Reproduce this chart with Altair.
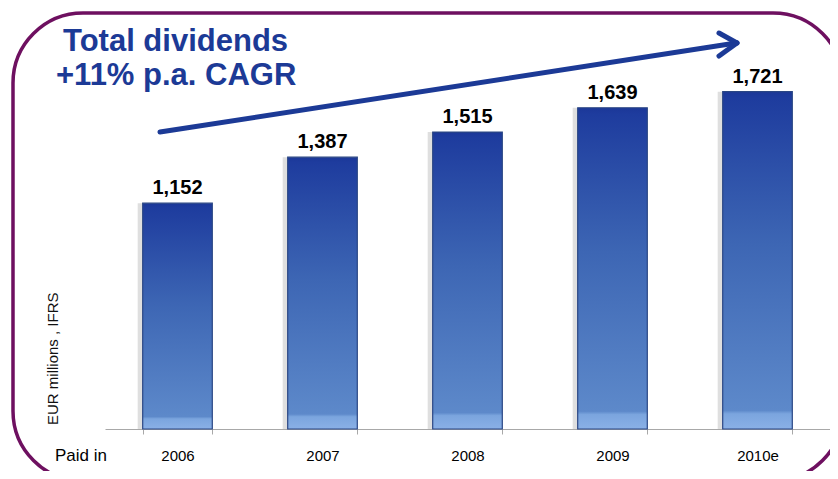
import altair as alt
import pandas as pd

years = ["2006", "2007", "2008", "2009", "2010e"]
dividends = [1152, 1387, 1515, 1639, 1721]
labels = ["1,152", "1,387", "1,515", "1,639", "1,721"]
title_lines = ["Total dividends", "+11% p.a. CAGR"]
y_title = "EUR millions , IFRS"
x_caption = "Paid in"

df = pd.DataFrame({"year": years, "value": dividends, "label": labels})

BLUE = "#1c3a96"
PURPLE = "#6e1060"
SANS = "Liberation Sans, Arial, Helvetica"

xenc = alt.X("year:N", sort=years,
             scale=alt.Scale(paddingInner=0.52, paddingOuter=0.26),
             axis=alt.Axis(title=None, labelAngle=0, labelFont=SANS, labelFontSize=15,
                           labelColor="#000000", domainColor="#a8a8a8", tickColor="#a8a8a8",
                           tickSize=5, tickBand="extent", labelPadding=14, grid=False))
yenc = alt.Y("value:Q", scale=alt.Scale(domain=[0, 2000]), axis=None)

base = alt.Chart(df)

shadow = base.mark_bar(color="#b8b8b8", opacity=0.45, xOffset=-5).encode(x=xenc, y=yenc)

grad = alt.Gradient(
    gradient="linear", x1=0, y1=0, x2=0, y2=1,
    stops=[
        alt.GradientStop(offset=0, color="#1b3798"),
        alt.GradientStop(offset=0.02, color="#1e3c9e"),
        alt.GradientStop(offset=0.45, color="#3d66b4"),
        alt.GradientStop(offset=0.945, color="#5d89ca"),
        alt.GradientStop(offset=0.955, color="#7ba5de"),
        alt.GradientStop(offset=1, color="#8ab0e6"),
    ],
)
bars = base.mark_bar(fill=grad, stroke="#2a4684", strokeWidth=1.2).encode(x=xenc, y=yenc)

values = base.mark_text(font=SANS, fontSize=20, fontWeight="bold", color="#000000",
                        baseline="alphabetic", dy=-9).encode(x=xenc, y=yenc, text="label:N")

one = alt.Data(values=[{}])

border = alt.Chart(one).mark_rect(cornerRadius=70, fillOpacity=0, fill="white",
                                  stroke=PURPLE, strokeWidth=3.5).encode(
    x=alt.value(-92), x2=alt.value(738), y=alt.value(-24), y2=alt.value(444))

t1 = alt.Chart(one).mark_text(text=title_lines[0], font=SANS, fontSize=31, fontWeight="bold",
                              color=BLUE, align="left", baseline="alphabetic").encode(
    x=alt.value(-42), y=alt.value(14))
t2 = alt.Chart(one).mark_text(text=title_lines[1], font=SANS, fontSize=31, fontWeight="bold",
                              color=BLUE, align="left", baseline="alphabetic").encode(
    x=alt.value(-49), y=alt.value(48))

shaft = alt.Chart(one).mark_rule(color=BLUE, strokeWidth=5, strokeCap="round").encode(
    x=alt.value(55), y=alt.value(95), x2=alt.value(631), y2=alt.value(6))
head1 = alt.Chart(one).mark_rule(color=BLUE, strokeWidth=5, strokeCap="round").encode(
    x=alt.value(614), y=alt.value(-4), x2=alt.value(632), y2=alt.value(6))
head2 = alt.Chart(one).mark_rule(color=BLUE, strokeWidth=5, strokeCap="round").encode(
    x=alt.value(614), y=alt.value(19), x2=alt.value(632), y2=alt.value(6))

ytitle = alt.Chart(one).mark_text(text=y_title, font=SANS, fontSize=15, color="#111111",
                                  angle=270, align="left", baseline="middle").encode(
    x=alt.value(-52), y=alt.value(388))
paid = alt.Chart(one).mark_text(text=x_caption, font=SANS, fontSize=17, color="#000000",
                                align="left", baseline="middle").encode(
    x=alt.value(-50), y=alt.value(419))

chart = alt.layer(border, shadow, bars, values, t1, t2, shaft, head1, head2, ytitle, paid).properties(
    width=725, height=392,
    autosize=alt.AutoSizeParams(type="none"),
    padding={"left": 97, "top": 29, "right": 0, "bottom": 42},
    background="white",
).configure_view(stroke=None)

chart.save("out.html", embed_options={"renderer": "svg", "actions": False})
